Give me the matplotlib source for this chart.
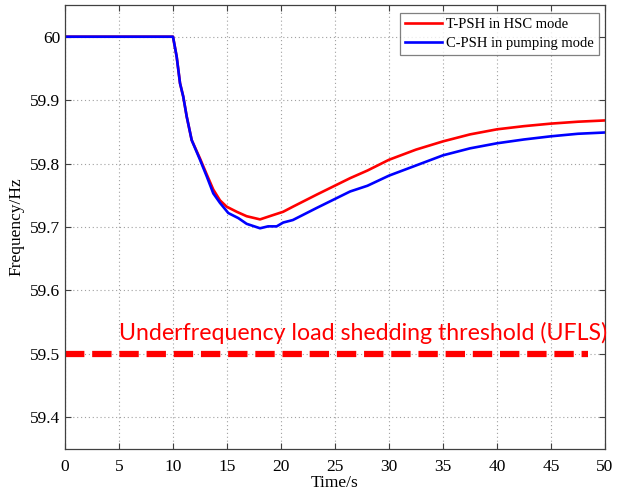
import matplotlib
matplotlib.use('Agg')
import matplotlib.pyplot as plt

# Frequency response data
t_hsc = [0, 10, 10.34, 10.65, 10.95, 11.27, 11.73, 12.5, 13.12, 13.73, 14.35, 14.97,
         15.9, 16.82, 18.06, 19.3, 20.2, 21.1, 23.3, 26.4, 28, 30, 32.5, 35, 37.5,
         40, 42.5, 45, 47.5, 50]
f_hsc = [60, 60, 59.9685, 59.9266, 59.9055, 59.874, 59.837, 59.808, 59.783, 59.759,
         59.742, 59.732, 59.724, 59.717, 59.712, 59.719, 59.724, 59.732, 59.751,
         59.777, 59.789, 59.806, 59.822, 59.835, 59.846, 59.854, 59.859, 59.863,
         59.866, 59.868]

t_pump = [0, 10, 10.34, 10.65, 10.95, 11.27, 11.73, 12.5, 13.12, 13.73, 14.35, 15.12,
          16.05, 16.82, 18.06, 18.8, 19.6, 20.2, 21.1, 23.3, 26.4, 28, 30, 32.5, 35,
          37.5, 40, 42.5, 45, 47.5, 50]
f_pump = [60, 60, 59.9685, 59.9266, 59.9055, 59.874, 59.837, 59.806, 59.78, 59.753,
          59.738, 59.722, 59.714, 59.705, 59.698, 59.701, 59.701, 59.707, 59.711,
          59.730, 59.756, 59.765, 59.781, 59.797, 59.813, 59.824, 59.832, 59.838,
          59.843, 59.847, 59.849]

ufls_t = [0, 48.4]
ufls_f = [59.5, 59.5]

x_ticks = [0, 5, 10, 15, 20, 25, 30, 35, 40, 45, 50]
y_ticks = [59.4, 59.5, 59.6, 59.7, 59.8, 59.9, 60]
y_tick_labels = ['59.4', '59.5', '59.6', '59.7', '59.8', '59.9', '60']

plt.rcParams['font.family'] = ['Liberation Serif', 'DejaVu Serif']

fig = plt.figure(figsize=(6.37, 4.92), dpi=100)
ax = fig.add_axes([65 / 637, 1 - 449 / 492, 540 / 637, 444 / 492])

ax.plot(t_hsc, f_hsc, color='#ff0000', lw=1.9, label='T-PSH in HSC mode')
ax.plot(t_pump, f_pump, color='#0000ff', lw=1.9, label='C-PSH in pumping mode')
ax.plot(ufls_t, ufls_f, color='#ff0000', lw=4.5, linestyle=(0, (3.1, 1.25)),
        solid_capstyle='butt', dash_capstyle='butt')

ax.text(5.0, 59.5224, 'Underfrequency load shedding threshold (UFLS)',
        color='#ff0000', fontsize=16.7, family='Lato', va='baseline', ha='left')

ax.set_xlim(0, 50)
ax.set_ylim(59.35, 60.05)
ax.set_xticks(x_ticks)
ax.set_yticks(y_ticks)
ax.set_yticklabels(y_tick_labels)
ax.tick_params(direction='in', length=4, top=True, right=True, labelsize=12.5,
               color='#404040', width=0.8)
ax.tick_params(axis='x', pad=7)
ax.grid(True, linestyle=(0, (1, 2.5)), color='#a0a0a0', linewidth=0.8)
for sp in ax.spines.values():
    sp.set_color('#404040')
    sp.set_linewidth(0.9)

ax.set_xlabel('Time/s', fontsize=12.5, labelpad=0)
ax.set_ylabel('Frequency/Hz', fontsize=12.5, labelpad=4)

leg = ax.legend(loc='upper right', fontsize=10.5, handlelength=2.5, handletextpad=0.3,
                borderpad=0.35, labelspacing=0.4, fancybox=False,
                bbox_to_anchor=(0.989, 0.982), borderaxespad=0)
leg.get_frame().set_edgecolor('#606060')
leg.get_frame().set_linewidth(0.9)

fig.savefig('out.png', dpi=100)
